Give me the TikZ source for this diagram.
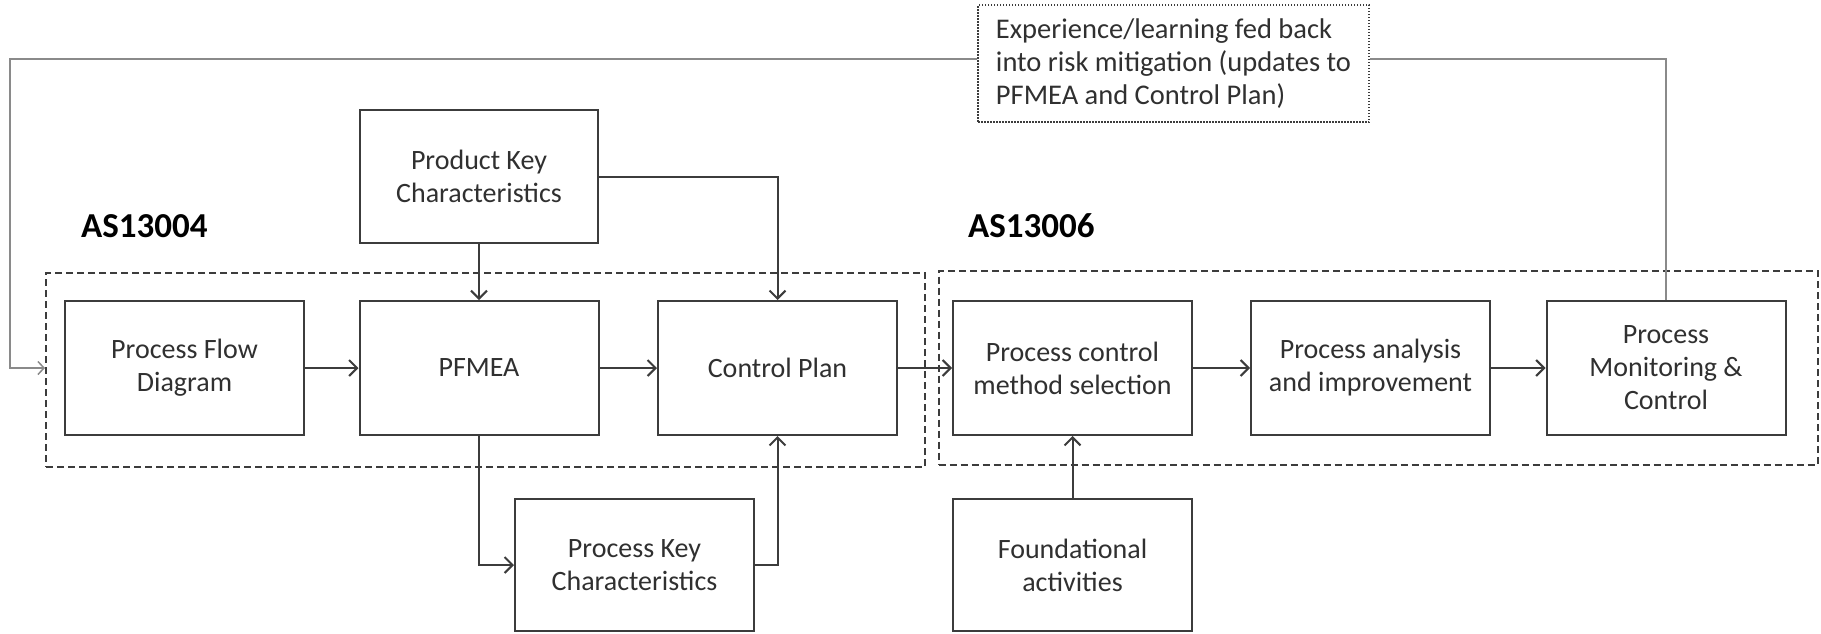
\documentclass[tikz,border=0pt]{standalone}
\usepackage{fontspec}
\setmainfont{Carlito}
\usetikzlibrary{arrows.meta}
\definecolor{boxgray}{HTML}{3C3C3C}
\definecolor{textgray}{HTML}{303030}
\definecolor{loopgray}{HTML}{8A8A8A}
\begin{document}
\begin{tikzpicture}[x=1pt,y=-1pt,
  box/.style={draw=boxgray, line width=2pt, fill=white, minimum width=239pt,
    minimum height=134pt, align=center, text=textgray, inner sep=0pt,
    font=\fontsize{28}{33}\selectfont},
  group/.style={draw=boxgray, line width=2pt, dash pattern=on 7pt off 4pt,
    minimum width=879pt, minimum height=194pt, inner sep=0pt},
  note/.style={draw=boxgray, line width=1.2pt, dash pattern=on 1.5pt off 1.5pt,
    minimum width=391pt, minimum height=117pt, align=left, text=textgray,
    inner sep=0pt, font=\fontsize{28.5}{33}\selectfont},
  title/.style={anchor=west, inner sep=0pt, text=black,
    font=\fontsize{35}{40}\selectfont\bfseries},
  link/.style={draw=boxgray, line width=2pt,
    -{Straight Barb[length=8pt,width=16pt,line width=2pt]}},
  loop/.style={draw=loopgray, line width=1.5pt},
]
\useasboundingbox (0,0) rectangle (1821,633);

% standard groupings
\node[group] (g1) at (485.5,370) {};
\node[group] (g2) at (1378,367.5) {};
\node[title] (t1) at (81,226) {AS13004};
\node[title] (t2) at (968,226) {AS13006};

% process steps
\node[box] (pfd)   at (184.5,368) {Process Flow\\Diagram};
\node[box] (pfmea) at (479,368)   {PFMEA};
\node[box] (cp)    at (777.5,368) {Control Plan};
\node[box] (pcm)   at (1072.5,368) {Process control\\method selection};
\node[box] (paa)   at (1370.5,368) {Process analysis\\and improvement};
\node[box] (pmc)   at (1666,368)  {Process\\Monitoring \&\\Control};

% inputs
\node[box, minimum width=238pt, minimum height=133pt] (prodkc) at (479,176.5) {Product Key\\Characteristics};
\node[box, minimum height=132pt] (prockc) at (634.5,565) {Process Key\\Characteristics};
\node[box, minimum height=132pt] (fa) at (1072.5,565) {Foundational\\activities};

% feedback note
\node[note] (fb) at (1173.5,63.5) {Experience/learning fed back\\into risk mitigation (updates to\\PFMEA and Control Plan)};

% main flow
\draw[link] (pfd) -- (pfmea);
\draw[link] (pfmea) -- (cp);
\draw[link] (cp) -- (pcm);
\draw[link] (pcm) -- (paa);
\draw[link] (paa) -- (pmc);

% side inputs
\draw[link] (prodkc) -- (pfmea);
\draw[link] (prodkc.east) -| (cp.north);
\draw[link] (pfmea.south) |- (prockc.west);
\draw[link] (prockc.east) -| (cp.south);
\draw[link] (fa) -- (pcm);

% feedback loop
\coordinate (loopL) at (10,368);
\draw[loop] (pmc.north) |- ([yshift=4.5pt]fb.east);
\draw[loop, -{Straight Barb[length=6pt,width=13pt,line width=1.5pt]}]
  ([yshift=4.5pt]fb.west) -| (loopL) -- (g1.west |- loopL);
\end{tikzpicture}
\end{document}
